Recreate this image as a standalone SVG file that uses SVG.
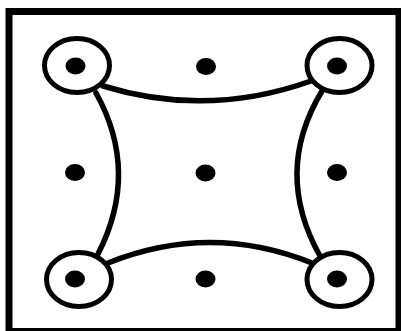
<svg xmlns="http://www.w3.org/2000/svg" width="401" height="331" viewBox="0 0 401 331">
<style>
.ring{fill:none;stroke:#000;stroke-width:5}
.dot{fill:#000}
.edge{fill:none;stroke:#000;stroke-width:5.5;stroke-linecap:round}
</style>
<rect x="0" y="0" width="401" height="331" fill="#fff"/>
<rect x="9" y="11.5" width="390" height="320" fill="none" stroke="#000" stroke-width="7"/>
<g id="connectors">
<path class="edge" d="M103,86 Q207,118 311,81"/>
<path class="edge" d="M96,93 Q140,172 98,254"/>
<path class="edge" d="M322,91 Q273,172 320,256"/>
<path class="edge" d="M108,263 Q210,222 312,263"/>
</g>
<g id="n_tl"><ellipse class="ring" cx="77" cy="65.5" rx="32.5" ry="27"/><ellipse class="dot" cx="75.5" cy="66" rx="10" ry="8.5"/></g>
<g id="n_tm"><ellipse class="dot" cx="206" cy="66.5" rx="10" ry="8.5"/></g>
<g id="n_tr"><ellipse class="ring" cx="339.5" cy="65.5" rx="32.5" ry="27"/><ellipse class="dot" cx="337" cy="66" rx="10" ry="8.5"/></g>
<g id="n_ml"><ellipse class="dot" cx="75" cy="172.5" rx="10" ry="8.5"/></g>
<g id="n_c"><ellipse class="dot" cx="205.5" cy="173" rx="10" ry="8.5"/></g>
<g id="n_mr"><ellipse class="dot" cx="337" cy="172.5" rx="10" ry="8.5"/></g>
<g id="n_bl"><ellipse class="ring" cx="79" cy="279.5" rx="32.5" ry="27"/><ellipse class="dot" cx="75" cy="279" rx="10" ry="8.5"/></g>
<g id="n_bm"><ellipse class="dot" cx="205.5" cy="279" rx="10" ry="8.5"/></g>
<g id="n_br"><ellipse class="ring" cx="339.5" cy="279.5" rx="32.5" ry="27"/><ellipse class="dot" cx="337" cy="279" rx="10" ry="8.5"/></g>
</svg>
